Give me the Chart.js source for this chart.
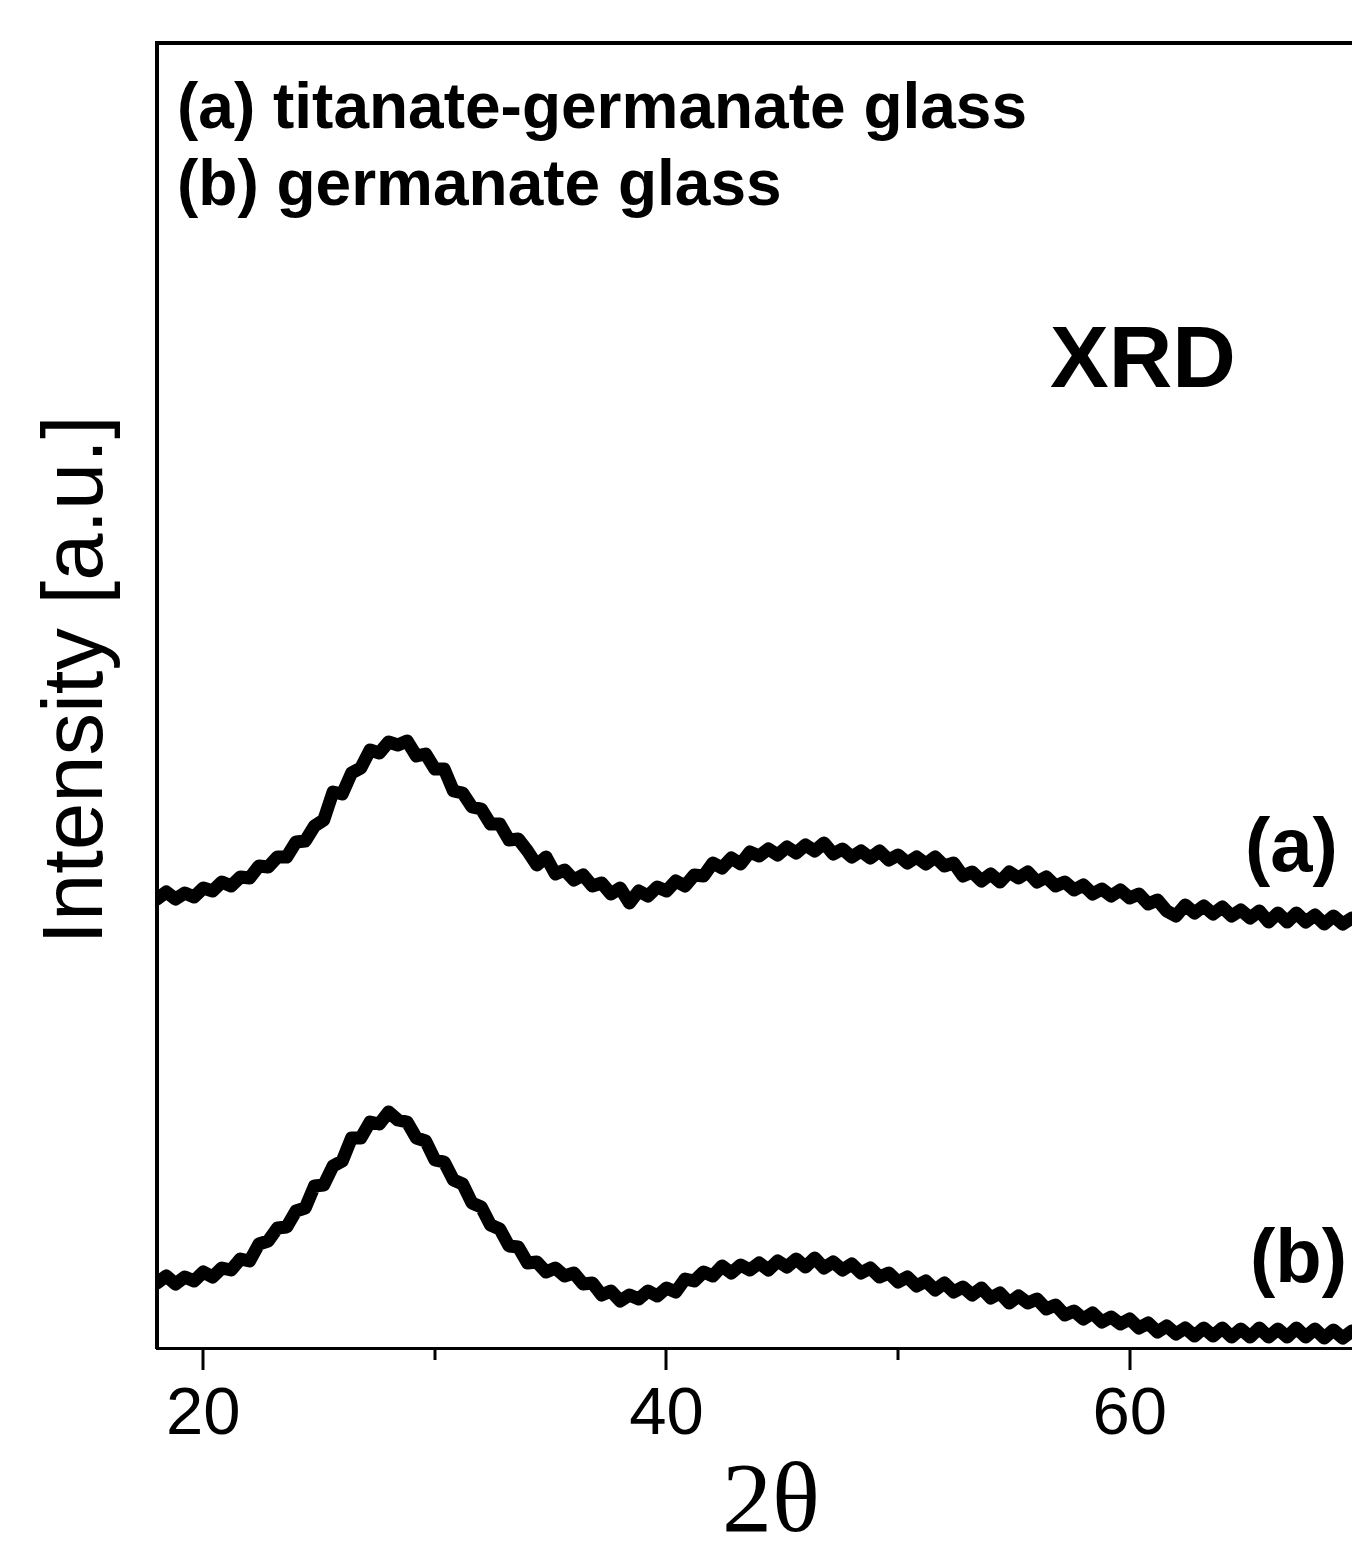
<!DOCTYPE html>
<html>
<head>
<meta charset="utf-8">
<script src="https://cdn.jsdelivr.net/npm/chart.js@4/dist/chart.umd.min.js"></script>
<style>
  html, body { margin: 0; padding: 0; background: #fff; overflow: hidden; }
  #wrap { width: 1352px; height: 1541px; }
</style>
</head>
<body>
<div id="wrap"><canvas id="xrd"></canvas></div>
<script>
// scan: 2theta from 18 to 69.6 deg, read every 0.4 deg off the figure
const scanStart = 18.0;
const scanStep = 0.4;

// (a) titanate-germanate glass, intensity in a.u. (offset trace)
const glassA = [
  449, 456, 449, 455, 451, 460, 457, 466, 462, 471,
  470, 482, 481, 491, 491, 506, 507, 522, 528, 556,
  554, 575, 580, 598, 595, 606, 603, 607, 592, 594,
  579, 579, 557, 555, 541, 539, 524, 524, 508, 509,
  497, 483, 491, 474, 478, 468, 473, 462, 465, 454,
  460, 445, 457, 452, 461, 457, 467, 462, 473, 472,
  485, 480, 490, 484, 496, 492, 499, 493, 501, 495,
  503, 497, 505, 494, 499, 491, 497, 490, 497, 488,
  493, 485, 491, 484, 491, 482, 485, 472, 476, 467,
  474, 466, 476, 470, 476, 466, 471, 462, 466, 458,
  463, 454, 459, 452, 458, 450, 454, 444, 448, 437,
  432, 443, 435, 442, 434, 441, 432, 438, 430, 437,
  426, 435, 426, 435, 426, 433, 424, 432, 424, 430
];

// (b) germanate glass
const glassB = [
  65, 72, 64, 71, 67, 76, 71, 80, 78, 89,
  87, 104, 107, 120, 121, 137, 140, 162, 163, 182,
  187, 210, 210, 226, 224, 236, 228, 226, 210, 207,
  188, 186, 168, 164, 145, 141, 123, 119, 102, 101,
  85, 86, 76, 80, 72, 75, 64, 65, 53, 57,
  47, 53, 49, 57, 52, 60, 56, 69, 67, 76,
  72, 82, 75, 83, 78, 85, 78, 87, 81, 89,
  81, 90, 80, 86, 78, 84, 75, 80, 71, 75,
  66, 71, 62, 67, 58, 65, 56, 61, 53, 60,
  50, 55, 45, 52, 45, 49, 39, 43, 33, 37,
  29, 35, 26, 31, 24, 29, 20, 25, 16, 22,
  14, 20, 12, 20, 12, 20, 11, 19, 11, 20,
  11, 19, 11, 20, 11, 19, 10, 18, 10, 17
];

const xMajorTicks = [20, 40, 60];
const xMinorTicks = [30, 50];

const xTitle = '2θ';
const yTitle = 'Intensity [a.u.]';
const legendLines = ['(a) titanate-germanate glass', '(b) germanate glass'];
const techniqueLabel = 'XRD';
const traceLabels = ['(a)', '(b)'];

function toPoints(values) {
  return values.map((v, i) => ({ x: +(scanStart + i * scanStep).toFixed(1), y: v }));
}

// top frame line, minor/major ticks, axis titles and the text written on the plot
const decorations = {
  id: 'decorations',
  afterDraw(chart) {
    const ctx = chart.ctx;
    const area = chart.chartArea;
    const xs = chart.scales.x;
    ctx.save();
    ctx.strokeStyle = '#000';
    ctx.lineCap = 'butt';

    ctx.lineWidth = 4;
    ctx.beginPath();
    ctx.moveTo(area.left - 2, area.top);
    ctx.lineTo(area.right, area.top);
    ctx.stroke();

    ctx.lineWidth = 3;
    xMajorTicks.forEach(v => {
      const px = Math.round(xs.getPixelForValue(v));
      ctx.beginPath();
      ctx.moveTo(px, area.bottom);
      ctx.lineTo(px, area.bottom + 22);
      ctx.stroke();
    });
    xMinorTicks.forEach(v => {
      const px = Math.round(xs.getPixelForValue(v));
      ctx.beginPath();
      ctx.moveTo(px, area.bottom);
      ctx.lineTo(px, area.bottom + 12);
      ctx.stroke();
    });

    ctx.fillStyle = '#000';
    ctx.textBaseline = 'alphabetic';

    // axis titles
    ctx.textAlign = 'center';
    ctx.font = '100px "Liberation Serif", "Times New Roman", serif';
    ctx.fillText(xTitle, 771, 1531);
    ctx.save();
    ctx.translate(102, 680);
    ctx.rotate(-Math.PI / 2);
    ctx.font = '85px "Liberation Sans", Arial, sans-serif';
    ctx.fillText(yTitle, 0, 0);
    ctx.restore();

    ctx.textAlign = 'left';
    ctx.font = 'bold 64px "Liberation Sans", Arial, sans-serif';
    ctx.fillText(legendLines[0], 177, 128);
    ctx.fillText(legendLines[1], 177, 205);

    ctx.font = 'bold 88px "Liberation Sans", Arial, sans-serif';
    ctx.fillText(techniqueLabel, 1050, 387);

    ctx.font = 'bold 76px "Liberation Sans", Arial, sans-serif';
    ctx.fillText(traceLabels[0], 1245, 871);
    ctx.fillText(traceLabels[1], 1250, 1282);
    ctx.restore();
  }
};

const lineStyle = {
  borderColor: '#000',
  borderWidth: 13,
  borderJoinStyle: 'round',
  borderCapStyle: 'round',
  pointRadius: 0,
  tension: 0,
  fill: false
};

new Chart(document.getElementById('xrd'), {
  type: 'line',
  data: {
    datasets: [
      Object.assign({ label: 'titanate-germanate glass', data: toPoints(glassA) }, lineStyle),
      Object.assign({ label: 'germanate glass', data: toPoints(glassB) }, lineStyle)
    ]
  },
  options: {
    responsive: true,
    maintainAspectRatio: false,
    animation: false,
    devicePixelRatio: 1,
    layout: { padding: { top: 43, right: 0, bottom: 0, left: 0 } },
    plugins: {
      legend: { display: false },
      tooltip: { enabled: false }
    },
    scales: {
      x: {
        type: 'linear',
        min: 18,
        max: 69.6,
        afterFit(scale) { scale.height = 193; },
        afterBuildTicks(scale) { scale.ticks = xMajorTicks.map(v => ({ value: v })); },
        grid: { display: true, drawOnChartArea: false, drawTicks: false },
        border: { display: true, color: '#000', width: 3 },
        ticks: {
          color: '#000',
          padding: 27,
          maxRotation: 0,
          font: { family: '"Liberation Sans", Arial, sans-serif', size: 67 }
        },
        title: { display: false }
      },
      y: {
        min: 0,
        max: 1305,
        afterFit(scale) { scale.width = 157; },
        grid: { display: false },
        border: { display: true, color: '#000', width: 4 },
        ticks: { display: false },
        title: { display: false }
      }
    }
  },
  plugins: [decorations]
});
</script>
</body>
</html>
